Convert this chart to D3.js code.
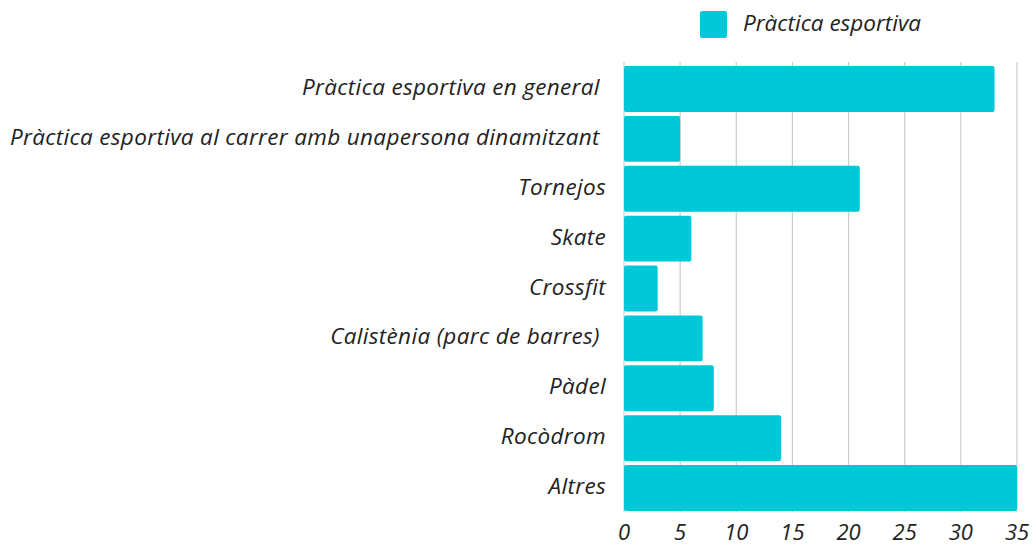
<!DOCTYPE html>
<html><head><meta charset="utf-8">
<script src="https://cdn.jsdelivr.net/npm/d3@7"></script>
<style>
body{margin:0;background:#fff;}
text{font-family:"Open Sans",sans-serif;font-style:italic;fill:#222;}
</style></head>
<body><svg id="c" width="1036" height="549"></svg>
<script>
const categories = ["Pràctica esportiva en general ","Pràctica esportiva al carrer amb unapersona dinamitzant ","Tornejos","Skate","Crossfit","Calistènia (parc de barres) ","Pàdel","Rocòdrom","Altres"];
const values = [33,5,21,6,3,7,8,14,35];
const ticks = [0,5,10,15,20,25,30,35];
const seriesName = "Pràctica esportiva";
const color = "#00c8d8";

const svg = d3.select("#c");
const x = d3.scaleLinear().domain([0,35]).range([624,1017]);
const y = d3.scaleBand().domain(categories).range([65,512]).paddingInner(0.08).paddingOuter(0.02);

svg.append("g").selectAll("line").data(ticks).join("line")
  .attr("x1",d=>x(d)).attr("x2",d=>x(d)).attr("y1",62).attr("y2",512)
  .attr("stroke","#cccccc").attr("stroke-width",1.2);

svg.append("g").selectAll("rect").data(values).join("rect")
  .attr("x",x(0)).attr("y",(d,i)=>y(categories[i]))
  .attr("width",d=>x(d)-x(0)).attr("height",y.bandwidth())
  .attr("rx",2).attr("fill",color);

svg.append("g").selectAll("text").data(categories).join("text")
  .attr("x",606).attr("y",d=>y(d)+y.bandwidth()/2+6)
  .attr("text-anchor","end").style("white-space","pre").style("letter-spacing","0.33px").attr("font-size",22.5)
  .text(d=>d);

svg.append("g").selectAll("text").data(ticks).join("text")
  .attr("x",d=>x(d)).attr("y",540).attr("text-anchor","middle").attr("font-size",22)
  .text(d=>d);

svg.append("rect").attr("x",700).attr("y",11).attr("width",27).attr("height",27).attr("rx",2).attr("fill",color);
svg.append("text").attr("x",743).attr("y",31).attr("font-size",22.5).text(seriesName);
</script></body></html>
